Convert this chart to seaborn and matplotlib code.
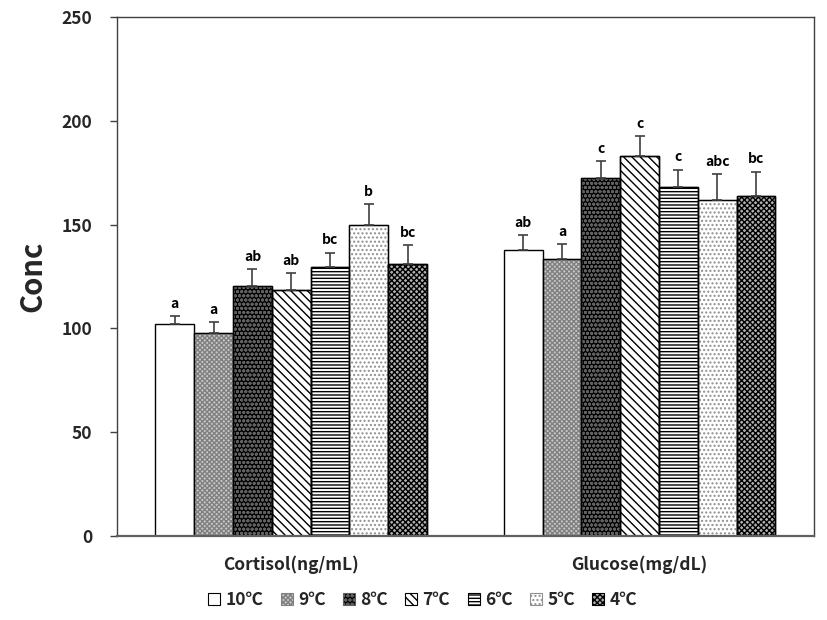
import numpy as np
import pandas as pd
import matplotlib
matplotlib.use("Agg")
import matplotlib.pyplot as plt
import seaborn as sns
from matplotlib.patches import Patch

categories = ["Cortisol(ng/mL)", "Glucose(mg/dL)"]
temps = ["10℃", "9℃", "8℃", "7℃", "6℃", "5℃", "4℃"]
cortisol = [102, 98, 120.5, 118.5, 129.5, 150, 131]
cortisol_err = [4, 5, 8, 8, 7, 10, 9]
glucose = [138, 133.5, 172.5, 183, 168, 162, 164]
glucose_err = [7, 7, 8, 9.5, 8.5, 12.5, 11.5]
cortisol_letters = ["a", "a", "ab", "ab", "bc", "b", "bc"]
glucose_letters = ["ab", "a", "c", "c", "c", "abc", "bc"]

rows = []
for t, v in zip(temps, cortisol):
    rows.append((categories[0], t, v))
for t, v in zip(temps, glucose):
    rows.append((categories[1], t, v))
df = pd.DataFrame(rows, columns=["Category", "Temp", "Conc"])

sns.set_theme(style="white")
plt.rcParams["font.family"] = ["Noto Sans CJK KR", "DejaVu Sans"]
plt.rcParams["hatch.linewidth"] = 1.0

# (facecolor, hatch, hatch colour)
styles = [
    ("white", None, None),
    ("#c8c8c8", "xxxxxxx", "#808080"),
    ("#000000", "oooo", "#606060"),
    ("white", "\\\\\\\\", "black"),
    ("white", "-----", "black"),
    ("white", "....", "#909090"),
    ("#b0b0b0", "xxxxxx", "#000000"),
]

fig = plt.figure(figsize=(8.27, 6.2), dpi=100)
ax = fig.add_axes([0.1415, 0.1355, 0.8425, 0.8371])

sns.barplot(data=df, x="Category", y="Conc", hue="Temp", order=categories,
            hue_order=temps, width=0.78, errorbar=None, ax=ax,
            palette=["white"] * 7, edgecolor="black", linewidth=1.0,
            legend=False)

vals = [cortisol, glucose]
errs = [cortisol_err, glucose_err]
lets = [cortisol_letters, glucose_letters]
bars = ax.patches[:len(temps) * len(categories)]
for hi in range(len(temps)):
    for ci in range(len(categories)):
        p = bars[hi * len(categories) + ci]
        fc, hatch, hc = styles[hi]
        p.set_facecolor(fc)
        if hatch:
            p.set_hatch(hatch)
            p.set_edgecolor(hc)
            outline = plt.Rectangle((p.get_x(), p.get_y()), p.get_width(), p.get_height(),
                                    fill=False, edgecolor="black", linewidth=1.0, zorder=p.get_zorder() + 0.1)
            ax.add_patch(outline)
        xc = p.get_x() + p.get_width() / 2
        v = vals[ci][hi]
        e = errs[ci][hi]
        ax.errorbar([xc], [v], yerr=[[0], [e]], fmt="none", ecolor="#404040",
                    elinewidth=1.2, capsize=3.5, capthick=1.2, zorder=5)
        ax.text(xc, v + e + 2.5, lets[ci][hi], ha="center", va="bottom",
                fontsize=10, fontweight="bold", color="black")

ax.set_xlim(-0.5, 1.5)
ax.set_ylim(0, 250)
ax.set_yticks([0, 50, 100, 150, 200, 250])
ax.tick_params(axis="y", direction="out", length=5, width=1, color="#404040",
               left=True, labelsize=12.5, pad=13)
ax.tick_params(axis="x", length=0, labelsize=12.5, pad=14)
for lab in ax.get_yticklabels() + ax.get_xticklabels():
    lab.set_fontweight("bold")
ax.set_xlabel("")
ax.set_ylabel("Conc", fontsize=21, fontweight="bold", labelpad=10)
for s in ax.spines.values():
    s.set_color("#404040")
    s.set_linewidth(1.0)
ax.spines["bottom"].set_linewidth(1.6)
ax.spines["bottom"].set_color("#606060")

handles = []
for fc, hatch, hc in styles:
    if hatch:
        handles.append(Patch(facecolor=fc, hatch=hatch, edgecolor=hc, linewidth=0.8))
    else:
        handles.append(Patch(facecolor=fc, edgecolor="black", linewidth=0.8))
leg = fig.legend(handles, temps, loc="center", bbox_to_anchor=(0.511, 0.032), ncol=7,
                 frameon=False, handlelength=0.7, handleheight=0.7, handletextpad=0.3,
                 columnspacing=1.0, prop={"weight": "bold", "size": 12.5})

fig.savefig("out.png", dpi=100)
